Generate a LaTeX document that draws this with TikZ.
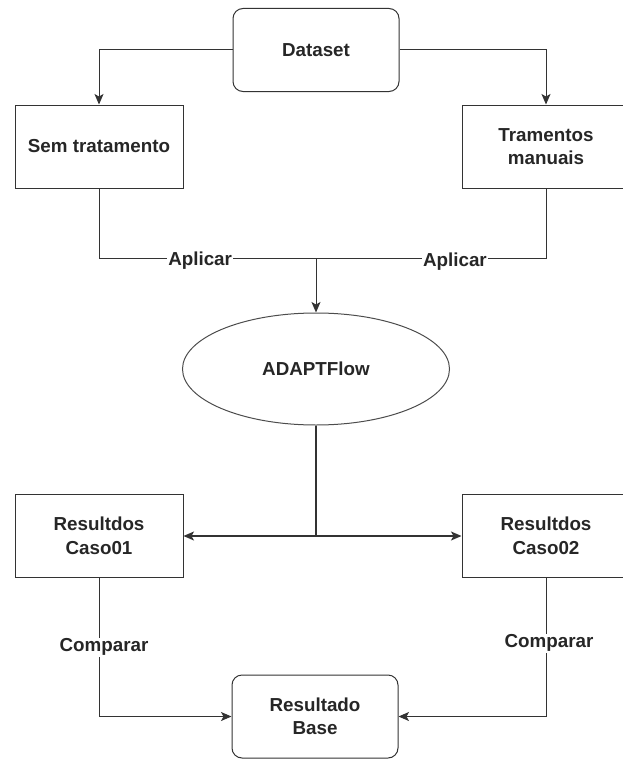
\documentclass[tikz,border=0pt]{standalone}
\usepackage{fontspec}
\setmainfont{Liberation Sans}
\usetikzlibrary{arrows.meta,shapes.geometric}
\begin{document}
\begin{tikzpicture}[x=1pt,y=-1pt,
  every node/.style={font=\fontsize{18.8}{23.5}\selectfont\bfseries, text=black!85, align=center},
  box/.style={draw=black!80, line width=1pt, rectangle, minimum width=168pt, minimum height=83pt, inner sep=0pt},
  roundbox/.style={box, rounded corners=10pt, minimum width=166pt},
  oval/.style={draw=black!70, line width=1pt, ellipse, minimum width=267pt, minimum height=112pt, inner sep=0pt},
  conn/.style={draw=black!80, line width=1pt},
  arr/.style={conn, -{Stealth[length=10.5pt,width=9pt,inset=2.5pt]}},
  lbl/.style={fill=white, inner sep=1pt}]
\useasboundingbox (0,0) rectangle (622,760);

% nodes
\node[roundbox] (ds) at (316,50) {Dataset};
\node[box] (sem) at (99,146.5) {Sem tratamento};
\node[box] (tra) at (546,146.5) {Tramentos\\manuais};
\node[oval] (ad) at (316,369) {ADAPTFlow};
\node[box] (c1) at (99,536) {Resultdos\\Caso01};
\node[box] (c2) at (546,536) {Resultdos\\Caso02};
\node[roundbox] (base) at (315,716.5) {Resultado\\Base};

\coordinate (join) at (316,258);

% dataset split
\draw[arr] (ds.west) -| (sem.north);
\draw[arr] (ds.east) -| (tra.north);

% apply ADAPTFlow
\draw[conn] (sem.south) |- (join) node[lbl, pos=0.733, yshift=-3pt] {Aplicar};
\draw[conn] (tra.south) |- (join) node[lbl, pos=0.698, yshift=-4pt] {Aplicar};
\draw[arr] (join) -- (ad.north);

% results
\draw[arr, line width=1.3pt] (ad.south) |- (c1.east);
\draw[arr, line width=1.3pt] (ad.south) |- (c2.west);

% comparison
\draw[arr] (c1.south) |- (base.west) node[lbl, pos=0.25, xshift=5pt] {Comparar};
\draw[arr] (c2.south) |- (base.east) node[lbl, pos=0.235, xshift=3pt] {Comparar};
\end{tikzpicture}
\end{document}
